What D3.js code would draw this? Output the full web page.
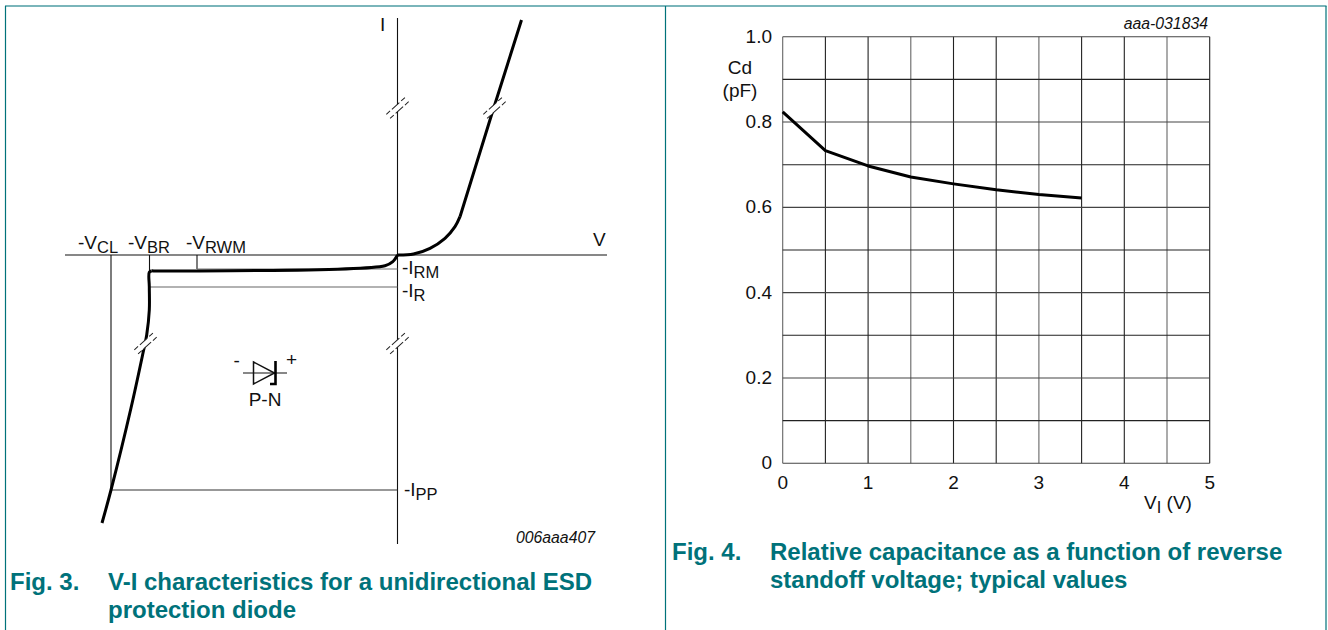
<!DOCTYPE html>
<html>
<head>
<meta charset="utf-8">
<script src="https://cdn.jsdelivr.net/npm/d3@7"></script>
<style>
  html, body { margin: 0; padding: 0; background: #fff; }
  svg { display: block; }
  text { font-family: "Liberation Sans", Arial, sans-serif; fill: #111; }
  .cap { font-weight: bold; font-size: 24px; fill: #00727a; }
  .id { font-style: italic; font-size: 15.8px; }
</style>
</head>
<body>
<svg id="chart" width="1328" height="630"></svg>
<script>
// Fig. 3 curve, schematic units (no numbers on the original axes)
var forwardV = [0, 0.16, 0.325, 0.475, 0.575, 0.625, 0.94, 1.24];
var forwardI = [0, 0.01, 0.067, 0.167, 0.283, 0.383, 1.40, 2.35];
var reverseV = [0, -0.045, -0.125, -2.458, -2.482, -2.482, -2.482, -2.508, -2.545, -2.665, -2.865, -2.955];
var reverseI = [0, -0.065, -0.107, -0.157, -0.173, -0.317, -0.55, -0.8, -0.98, -1.53, -2.35, -2.68];

// Fig. 3 reference levels
var vCL = -2.865, vBR = -2.48, vRWM = -2.005;
var iRM = -0.14, iR = -0.32, iPP = -2.35;

// Fig. 4 data
var capV = [0, 0.5, 1, 1.5, 2, 2.5, 3, 3.5];
var capC = [0.824, 0.733, 0.697, 0.671, 0.655, 0.641, 0.630, 0.622];
var xTicks = [0, 1, 2, 3, 4, 5];
var yTicks = [0, 0.2, 0.4, 0.6, 0.8, 1.0];
var xGrid = [0, 0.5, 1, 1.5, 2, 2.5, 3, 3.5, 4, 4.5, 5];
var yGrid = [0, 0.1, 0.2, 0.3, 0.4, 0.5, 0.6, 0.7, 0.8, 0.9, 1.0];

var svg = d3.select('#chart');
var teal = '#00727a';

// page frame
svg.append('line').attr('x1', 5).attr('x2', 1326.5).attr('y1', 6).attr('y2', 6)
  .attr('stroke', '#7ab5ba').attr('stroke-width', 2);
[5.5, 665.5, 1326].forEach(function(x) {
  svg.append('line').attr('x1', x).attr('x2', x).attr('y1', 6).attr('y2', 630)
    .attr('stroke', teal).attr('stroke-width', 1.2);
});

// ---------- Fig. 3 ----------
var xV = d3.scaleLinear().domain([-3.325, 2.095]).range([65, 607]);
var yI = d3.scaleLinear().domain([2.37, -2.89]).range([18, 544]);
var g3 = svg.append('g');

function thin(x1, y1, x2, y2, col, w) {
  g3.append('line')
    .attr('x1', xV(x1)).attr('y1', yI(y1))
    .attr('x2', xV(x2)).attr('y2', yI(y2))
    .attr('stroke', col || '#111').attr('stroke-width', w || 1.1);
}

// axes
thin(-3.325, 0, 2.095, 0);
thin(0, 2.37, 0, -2.89);

// reference lines
thin(vCL, 0, vCL, iPP);
thin(vBR, 0, vBR, -0.17);
thin(vRWM, 0, vRWM, iRM);
thin(vRWM, iRM, 0, iRM, '#777', 1.2);
thin(vBR, iR, 0, iR, '#666', 1.2);
thin(vCL, iPP, 0, iPP, '#333', 1.2);

// curves
var line3 = d3.line().x(function(d) { return xV(d[0]); }).y(function(d) { return yI(d[1]); });
var smooth3 = d3.line().x(line3.x()).y(line3.y()).curve(d3.curveCatmullRom.alpha(0.5));

function heavy(d) {
  g3.append('path').attr('d', d).attr('fill', 'none')
    .attr('stroke', '#000').attr('stroke-width', 3).attr('stroke-linejoin', 'round');
}
heavy(smooth3(d3.zip(forwardV.slice(0, 6), forwardI.slice(0, 6))));
heavy(line3(d3.zip(forwardV.slice(5), forwardI.slice(5))));
heavy(smooth3(d3.zip(reverseV.slice(0, 4), reverseI.slice(0, 4))));
heavy(smooth3(d3.zip(reverseV.slice(3), reverseI.slice(3))));

// axis break marks
var breaks = [[0, 1.47], [0.97, 1.47], [0, -0.885], [-2.52, -0.885]];
breaks.forEach(function(b) {
  var mark = g3.append('g').attr('transform', 'translate(' + xV(b[0]) + ',' + yI(b[1]) + ') rotate(-42)');
  mark.append('rect').attr('x', -13).attr('y', -2.6).attr('width', 26).attr('height', 5.2).attr('fill', '#fff');
  [-2.8, 2.8].forEach(function(off) {
    mark.append('line').attr('x1', -12.5).attr('x2', 12.5).attr('y1', off).attr('y2', off)
      .attr('stroke', '#222').attr('stroke-width', 1).attr('stroke-dasharray', '5 2.5 10 2.5 5');
  });
});

// diode symbol
var diodeV = -1.325, diodeI = -1.18;
var sym = g3.append('g').attr('transform', 'translate(' + xV(diodeV) + ',' + yI(diodeI) + ')');
sym.append('line').attr('x1', -22).attr('x2', 22).attr('y1', 0).attr('y2', 0).attr('stroke', '#111').attr('stroke-width', 1.2);
sym.append('path').attr('d', 'M-11.5,-11 L9.5,0 L-11.5,11 Z').attr('fill', 'none').attr('stroke', '#111').attr('stroke-width', 1.5);
sym.append('path').attr('d', 'M10.5,-12 L10.5,11 L5,11').attr('fill', 'none').attr('stroke', '#000').attr('stroke-width', 2.6);

// labels with subscripts
function subLabel(parent, x, y, main, sub, anchor) {
  var t = parent.append('text').attr('x', x).attr('y', y).attr('font-size', 19).attr('text-anchor', anchor || 'start');
  t.append('tspan').text(main);
  if (sub) t.append('tspan').attr('dy', 3.5).attr('font-size', 16.5).text(sub);
  return t;
}
subLabel(g3, 78, 249, '-V', 'CL');
subLabel(g3, 128, 249, '-V', 'BR');
subLabel(g3, 186, 249, '-V', 'RWM');
subLabel(g3, 402, 274, '-I', 'RM');
subLabel(g3, 402, 297, '-I', 'R');
subLabel(g3, 404, 496, '-I', 'PP');
subLabel(g3, 380, 31, 'I');
subLabel(g3, 593, 246, 'V');
subLabel(g3, 233.5, 367, '-');
subLabel(g3, 286, 366, '+');
subLabel(g3, 265, 406, 'P-N', null, 'middle');

g3.append('text').attr('class', 'id').attr('x', 595).attr('y', 543).attr('text-anchor', 'end').text('006aaa407');
g3.append('text').attr('class', 'cap').attr('x', 10).attr('y', 589.5).text('Fig. 3.');
g3.append('text').attr('class', 'cap').attr('x', 108).attr('y', 589.5).text('V-I characteristics for a unidirectional ESD');
g3.append('text').attr('class', 'cap').attr('x', 108).attr('y', 618).text('protection diode');

// ---------- Fig. 4 ----------
var x4 = d3.scaleLinear().domain([0, 5]).range([782.7, 1209.7]);
var y4 = d3.scaleLinear().domain([0, 1]).range([463.3, 36.7]);
var g4 = svg.append('g');

g4.selectAll('.vg').data(xGrid).enter().append('line')
  .attr('x1', x4).attr('x2', x4).attr('y1', y4(0)).attr('y2', y4(1))
  .attr('stroke', function(d, i) { return i % 3 === 0 ? '#666' : '#222'; }).attr('stroke-width', 1.1);
g4.selectAll('.hg').data(yGrid).enter().append('line')
  .attr('x1', x4(0)).attr('x2', x4(5)).attr('y1', y4).attr('y2', y4)
  .attr('stroke', function(d, i) { return i % 2 === 0 ? '#444' : '#222'; }).attr('stroke-width', 1.1);

g4.append('path')
  .attr('d', d3.line().x(function(d) { return x4(d[0]); }).y(function(d) { return y4(d[1]); })(d3.zip(capV, capC)))
  .attr('fill', 'none').attr('stroke', '#000').attr('stroke-width', 3).attr('stroke-linejoin', 'round');

g4.selectAll('.xt').data(xTicks).enter().append('text')
  .attr('x', x4).attr('y', 489).attr('text-anchor', 'middle').attr('font-size', 19)
  .text(function(d) { return d; });
g4.selectAll('.yt').data(yTicks).enter().append('text')
  .attr('x', 772).attr('y', function(d) { return y4(d) + 6; }).attr('text-anchor', 'end').attr('font-size', 19)
  .text(function(d) { return d === 0 ? '0' : d.toFixed(1); });

g4.append('text').attr('x', 740).attr('y', 74).attr('text-anchor', 'middle').attr('font-size', 19).text('Cd');
g4.append('text').attr('x', 740).attr('y', 97).attr('text-anchor', 'middle').attr('font-size', 19).text('(pF)');
subLabel(g4, 1144, 509, 'V', 'I').append('tspan').attr('dy', -3.5).attr('font-size', 19).text(' (V)');

g4.append('text').attr('class', 'id').attr('x', 1208).attr('y', 29).attr('text-anchor', 'end').text('aaa-031834');
g4.append('text').attr('class', 'cap').attr('x', 672).attr('y', 559.5).text('Fig. 4.');
g4.append('text').attr('class', 'cap').attr('x', 770).attr('y', 559.5).text('Relative capacitance as a function of reverse');
g4.append('text').attr('class', 'cap').attr('x', 770).attr('y', 588).text('standoff voltage; typical values');
</script>
</body>
</html>
